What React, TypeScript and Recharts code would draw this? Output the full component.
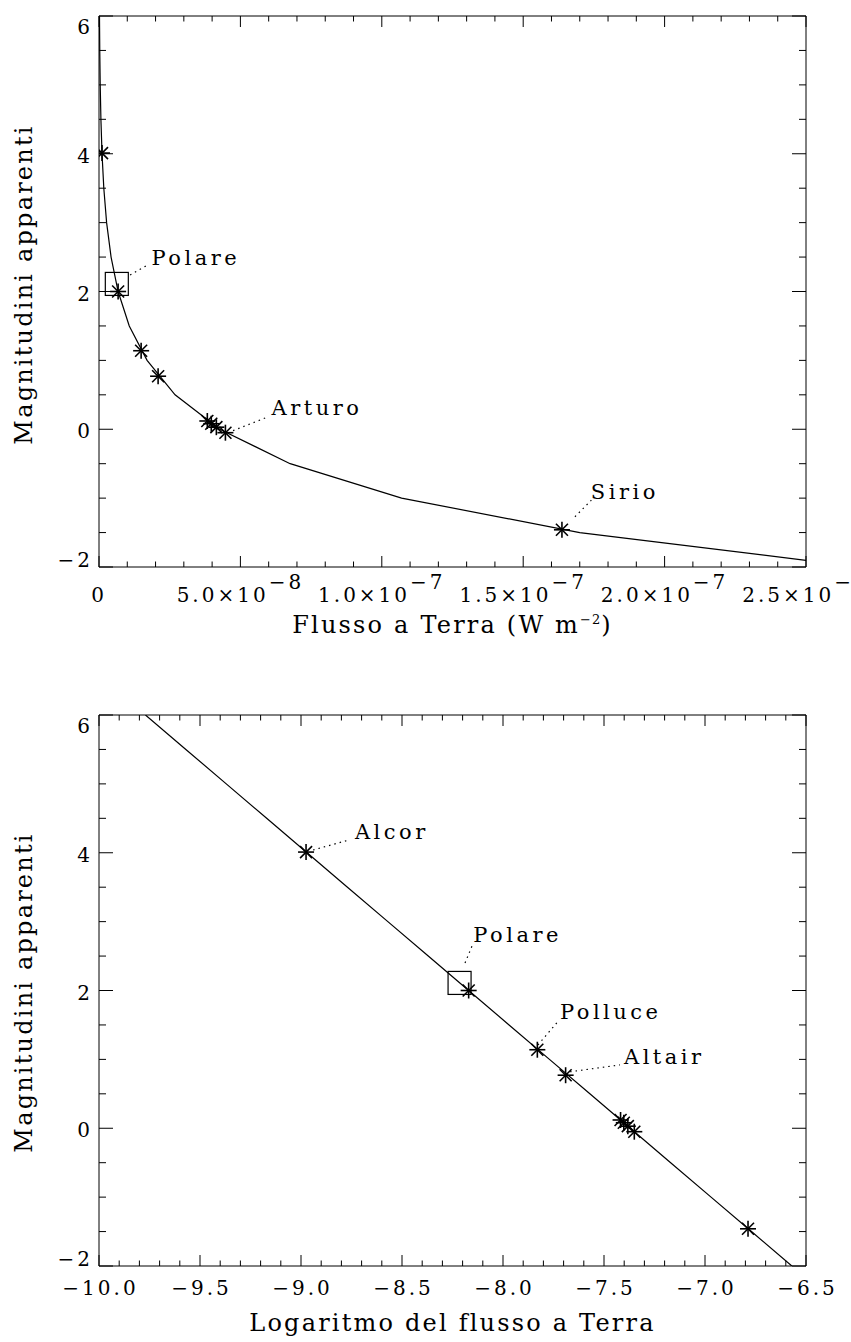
import React from 'react';
import { ComposedChart, Line, Scatter, XAxis, YAxis, ReferenceLine } from 'recharts';

const FONT = '"DejaVu Serif", serif';

// ---- model curve (magnitude vs flux) ----
const curveMag = [6, 5.5, 5, 4.5, 4, 3.5, 3, 2.5, 2, 1.5, 1, 0.5, 0, -0.5, -1, -1.5, -2];
const curveFlux = [1.7e-10, 2.69e-10, 4.27e-10, 6.76e-10, 1.07e-9, 1.7e-9, 2.69e-9, 4.27e-9, 6.76e-9, 1.07e-8, 1.7e-8, 2.69e-8, 4.27e-8, 6.76e-8, 1.07e-7, 1.7e-7, 2.69e-7];
const curveLogFlux = [-9.77, -9.57, -9.37, -9.17, -8.97, -8.77, -8.57, -8.37, -8.17, -7.97, -7.77, -7.57, -7.37, -7.17, -6.97, -6.77, -6.57];

// ---- stars ----
const starNames = ['Alcor', 'Polare', 'Polluce', 'Altair', 'Rigel', 'Capella', 'Vega', 'Arturo', 'Sirio'];
const starMag = [4.01, 2.0, 1.14, 0.77, 0.12, 0.08, 0.03, -0.05, -1.46];
const starFlux = [1.06e-9, 6.76e-9, 1.49e-8, 2.09e-8, 3.83e-8, 3.97e-8, 4.15e-8, 4.47e-8, 1.637e-7];
const starLogFlux = [-8.975, -8.17, -7.83, -7.69, -7.418, -7.402, -7.382, -7.35, -6.787];

// ---- Polare highlight square ----
const squareFlux = [6.3e-9];
const squareLogFlux = [-8.215];
const squareMag = [2.11];

// ---- annotations, top chart ----
const topLabelNames = ['Polare', 'Arturo', 'Sirio'];
const topLabelFlux = [1.86e-8, 6.1e-8, 1.739e-7];
const topLabelMag = [2.38, 0.2, -1.01];
const topLeaderFromFlux = [1.1e-8, 4.74e-8, 1.683e-7];
const topLeaderFromMag = [2.24, -0.02, -1.27];
const topLeaderToFlux = [1.66e-8, 5.98e-8, 1.741e-7];
const topLeaderToMag = [2.37, 0.18, -1.03];

// ---- annotations, bottom chart ----
const botLabelNames = ['Alcor', 'Polare', 'Polluce', 'Altair'];
const botLabelLog = [-8.733, -8.147, -7.718, -7.401];
const botLabelMag = [4.2, 2.7, 1.58, 0.93];
const botLeaderFromLog = [-8.94, -8.188, -7.827, -7.668];
const botLeaderFromMag = [4.04, 2.4, 1.21, 0.82];
const botLeaderToLog = [-8.757, -8.147, -7.728, -7.421];
const botLeaderToMag = [4.19, 2.69, 1.55, 0.92];

// ---- axes ----
const fluxMajorTicks = [0, 5e-8, 1e-7, 1.5e-7, 2e-7, 2.5e-7];
const fluxTickMantissa = ['0', '5.0×10', '1.0×10', '1.5×10', '2.0×10', '2.5×10'];
const fluxTickExponent = ['', '−8', '−7', '−7', '−7', '−7'];
const fluxMinorStep = 1e-8;

const logMajorTicks = [-10, -9.5, -9, -8.5, -8, -7.5, -7, -6.5];
const logTickLabels = ['−10.0', '−9.5', '−9.0', '−8.5', '−8.0', '−7.5', '−7.0', '−6.5'];
const logMinorStep = 0.1;

const magMajorTicks = [-2, 0, 2, 4, 6];
const magTickLabels = ['−2', '0', '2', '4', '6'];
const magMinorStep = 0.5;

const buildTicks = (majors: number[], step: number) => {
  const lo = majors[0];
  const hi = majors[majors.length - 1];
  const n = Math.round((hi - lo) / step);
  const out: number[] = [];
  for (let i = 0; i <= n; i++) out.push(+(lo + i * step).toPrecision(10));
  return out;
};
const fluxTicks = buildTicks(fluxMajorTicks, fluxMinorStep);
const logTicks = buildTicks(logMajorTicks, logMinorStep);
const magTicks = buildTicks(magMajorTicks, magMinorStep);

const majorIndex = (majors: number[], v: number) => {
  const span = majors[majors.length - 1] - majors[0];
  return majors.findIndex((m) => Math.abs(m - v) < span * 1e-6);
};

// ---- tables ----
const zip = (xs: number[], ys: number[], names?: string[]) =>
  xs.map((x, i) => ({ x, y: ys[i], name: names ? names[i] : '' }));

const curveTop = zip(curveFlux, curveMag);
const curveBot = zip(curveLogFlux, curveMag);
const starsTop = zip(starFlux, starMag, starNames);
const starsBot = zip(starLogFlux, starMag, starNames);
const squareTop = zip(squareFlux, squareMag);
const squareBot = zip(squareLogFlux, squareMag);
const labelsTop = zip(topLabelFlux, topLabelMag, topLabelNames);
const labelsBot = zip(botLabelLog, botLabelMag, botLabelNames);
const leadersTop = topLeaderFromFlux.map((x, i) => [
  { x, y: topLeaderFromMag[i] },
  { x: topLeaderToFlux[i], y: topLeaderToMag[i] },
]);
const leadersBot = botLeaderFromLog.map((x, i) => [
  { x, y: botLeaderFromMag[i] },
  { x: botLeaderToLog[i], y: botLeaderToMag[i] },
]);

const tickText = { fontFamily: FONT, fontSize: 20, letterSpacing: 3, fill: '#000' } as const;
const titleText = { fontFamily: FONT, fontSize: 24, letterSpacing: 2.2, fill: '#000' } as const;
const annText = { fontFamily: FONT, fontSize: 21, letterSpacing: 3.5, fill: '#000' } as const;

const X_MAJOR = 11;
const X_MINOR = 5.5;
const Y_MAJOR = 14;
const Y_MINOR = 7;

// ---- tick renderers ----
const FluxBottomTick = (p: any) => {
  const { x, y, payload } = p;
  const k = majorIndex(fluxMajorTicks, payload.value);
  const major = k >= 0;
  return (
    <g>
      <line x1={x} y1={y} x2={x} y2={y - (major ? X_MAJOR : X_MINOR)} stroke="#000" strokeWidth={1} />
      {major && (
        <text x={x} y={y + 35} textAnchor="middle" {...tickText}>
          {fluxTickMantissa[k]}
          {fluxTickExponent[k] ? <tspan dy={-13}>{fluxTickExponent[k]}</tspan> : null}
        </text>
      )}
    </g>
  );
};

const LogBottomTick = (p: any) => {
  const { x, y, payload } = p;
  const k = majorIndex(logMajorTicks, payload.value);
  const major = k >= 0;
  return (
    <g>
      <line x1={x} y1={y} x2={x} y2={y - (major ? X_MAJOR : X_MINOR)} stroke="#000" strokeWidth={1} />
      {major && (
        <text x={x + 1.5} y={y + 29} textAnchor="middle" {...tickText}>
          {logTickLabels[k]}
        </text>
      )}
    </g>
  );
};

const makeTopTick = (majors: number[]) => (p: any) => {
  const { x, y, payload } = p;
  const major = majorIndex(majors, payload.value) >= 0;
  return <line x1={x} y1={y} x2={x} y2={y + (major ? X_MAJOR : X_MINOR)} stroke="#000" strokeWidth={1} />;
};

const MagLeftTick = (p: any) => {
  const { x, y, payload } = p;
  const k = majorIndex(magMajorTicks, payload.value);
  const major = k >= 0;
  let base = y + 9;
  if (k === magMajorTicks.length - 1) base = y + 18;
  if (k === 0) base = y - 0.5;
  return (
    <g>
      <line x1={x} y1={y} x2={x + (major ? Y_MAJOR : Y_MINOR)} y2={y} stroke="#000" strokeWidth={1} />
      {major && (
        <text x={x - 6} y={base} textAnchor="end" {...tickText}>
          {magTickLabels[k]}
        </text>
      )}
    </g>
  );
};

const MagRightTick = (p: any) => {
  const { x, y, payload } = p;
  const major = majorIndex(magMajorTicks, payload.value) >= 0;
  return <line x1={x} y1={y} x2={x - (major ? Y_MAJOR : Y_MINOR)} y2={y} stroke="#000" strokeWidth={1} />;
};

// ---- titles ----
const FluxTitle = (p: any) => {
  const vb = p.viewBox || {};
  return (
    <text x={vb.x + vb.width / 2} y={vb.y + 66} textAnchor="middle" {...titleText}>
      Flusso a Terra (W m
      <tspan dy={-9} fontSize={13} letterSpacing={1}>−2</tspan>
      <tspan dy={9}>)</tspan>
    </text>
  );
};

const LogTitle = (p: any) => {
  const vb = p.viewBox || {};
  return (
    <text x={vb.x + vb.width / 2} y={vb.y + 65} textAnchor="middle" {...titleText}>
      Logaritmo del flusso a Terra
    </text>
  );
};

const makeMagTitle = (shift: number) => (p: any) => {
  const vb = p.viewBox || {};
  const cx = vb.x + vb.width - 67;
  const cy = vb.y + vb.height / 2 + shift;
  return (
    <text x={cx} y={cy} transform={`rotate(-90 ${cx} ${cy})`} textAnchor="middle" {...titleText}>
      Magnitudini apparenti
    </text>
  );
};

// ---- marks ----
const Asterisk = (p: any) => {
  const { cx, cy } = p;
  if (cx == null || cy == null) return <g />;
  return (
    <g stroke="#000" strokeWidth={1.6}>
      <line x1={cx} y1={cy - 8} x2={cx} y2={cy + 8} />
      <line x1={cx - 8} y1={cy} x2={cx + 8} y2={cy} />
      <line x1={cx - 6} y1={cy - 6} x2={cx + 6} y2={cy + 6} />
      <line x1={cx - 6} y1={cy + 6} x2={cx + 6} y2={cy - 6} />
    </g>
  );
};

const Square = (p: any) => {
  const { cx, cy } = p;
  if (cx == null || cy == null) return <g />;
  return <rect x={cx - 11.5} y={cy - 11.5} width={23} height={23} fill="none" stroke="#000" strokeWidth={1.2} />;
};

const NameLabel = (p: any) => {
  const { cx, cy } = p;
  const name = (p.payload && p.payload.name) || p.name;
  if (cx == null || cy == null) return <g />;
  return (
    <text x={cx} y={cy} textAnchor="start" {...annText}>
      {name}
    </text>
  );
};

type PanelProps = {
  height: number;
  margin: { top: number; right: number; bottom: number; left: number };
  xDomain: [number, number];
  xTicks: number[];
  xMajors: number[];
  BottomTick: any;
  Title: any;
  titleShift: number;
  curve: any[];
  stars: any[];
  square: any[];
  labels: any[];
  leaders: any[];
};

const Panel = ({ height, margin, xDomain, xTicks, xMajors, BottomTick, Title, titleShift, curve, stars, square, labels, leaders }: PanelProps) => {
  const TopTick = makeTopTick(xMajors);
  const MagTitle = makeMagTitle(titleShift);
  return (
    <ComposedChart width={851} height={height} margin={margin}>
      <XAxis
        xAxisId="b"
        dataKey="x"
        type="number"
        orientation="bottom"
        domain={xDomain}
        allowDataOverflow
        ticks={xTicks}
        interval={0}
        height={1}
        tickSize={0}
        tickMargin={0}
        tickLine={false}
        axisLine={{ stroke: '#000', strokeWidth: 1 }}
        tick={(p: any) => <BottomTick {...p} />}
        label={<Title />}
      />
      <XAxis
        xAxisId="t"
        dataKey="x"
        type="number"
        orientation="top"
        domain={xDomain}
        allowDataOverflow
        ticks={xTicks}
        interval={0}
        height={1}
        tickSize={0}
        tickMargin={0}
        tickLine={false}
        axisLine={{ stroke: '#000', strokeWidth: 1 }}
        tick={(p: any) => <TopTick {...p} />}
      />
      <YAxis
        yAxisId="l"
        dataKey="y"
        type="number"
        orientation="left"
        domain={[-2, 6]}
        allowDataOverflow
        ticks={magTicks}
        interval={0}
        width={1}
        tickSize={0}
        tickMargin={0}
        tickLine={false}
        axisLine={{ stroke: '#000', strokeWidth: 1 }}
        tick={(p: any) => <MagLeftTick {...p} />}
        label={<MagTitle />}
      />
      <YAxis
        yAxisId="r"
        dataKey="y"
        type="number"
        orientation="right"
        domain={[-2, 6]}
        allowDataOverflow
        ticks={magTicks}
        interval={0}
        width={1}
        tickSize={0}
        tickMargin={0}
        tickLine={false}
        axisLine={{ stroke: '#000', strokeWidth: 1 }}
        tick={(p: any) => <MagRightTick {...p} />}
      />
      <Line
        xAxisId="b"
        yAxisId="l"
        data={curve}
        dataKey="y"
        type="linear"
        stroke="#000"
        strokeWidth={1.2}
        dot={false}
        activeDot={false}
        isAnimationActive={false}
      />
      {leaders.map((seg: any, i: number) => (
        <ReferenceLine
          key={'lead' + i}
          xAxisId="b"
          yAxisId="l"
          segment={seg}
          stroke="#000"
          strokeWidth={1.2}
          strokeDasharray="1.5 4"
          ifOverflow="visible"
        />
      ))}
      <Scatter xAxisId="b" yAxisId="l" data={stars} dataKey="y" shape={(p: any) => <Asterisk {...p} />} isAnimationActive={false} />
      <Scatter xAxisId="b" yAxisId="l" data={square} dataKey="y" shape={(p: any) => <Square {...p} />} isAnimationActive={false} />
      <Scatter xAxisId="b" yAxisId="l" data={labels} dataKey="y" shape={(p: any) => <NameLabel {...p} />} isAnimationActive={false} />
    </ComposedChart>
  );
};

export default function App() {
  return (
    <div style={{ width: 851, height: 1342, overflow: 'hidden', background: '#fff' }}>
      <style>{'body{margin:0;background:#fff}'}</style>
      <Panel
        height={650}
        margin={{ top: 15, right: 44, bottom: 82, left: 98 }}
        xDomain={[0, 2.5e-7]}
        xTicks={fluxTicks}
        xMajors={fluxMajorTicks}
        BottomTick={FluxBottomTick}
        Title={FluxTitle}
        titleShift={-7}
        curve={curveTop}
        stars={starsTop}
        square={squareTop}
        labels={labelsTop}
        leaders={leadersTop}
      />
      <Panel
        height={692}
        margin={{ top: 64, right: 44, bottom: 75, left: 98 }}
        xDomain={[-10, -6.5]}
        xTicks={logTicks}
        xMajors={logMajorTicks}
        BottomTick={LogBottomTick}
        Title={LogTitle}
        titleShift={2}
        curve={curveBot}
        stars={starsBot}
        square={squareBot}
        labels={labelsBot}
        leaders={leadersBot}
      />
    </div>
  );
}
